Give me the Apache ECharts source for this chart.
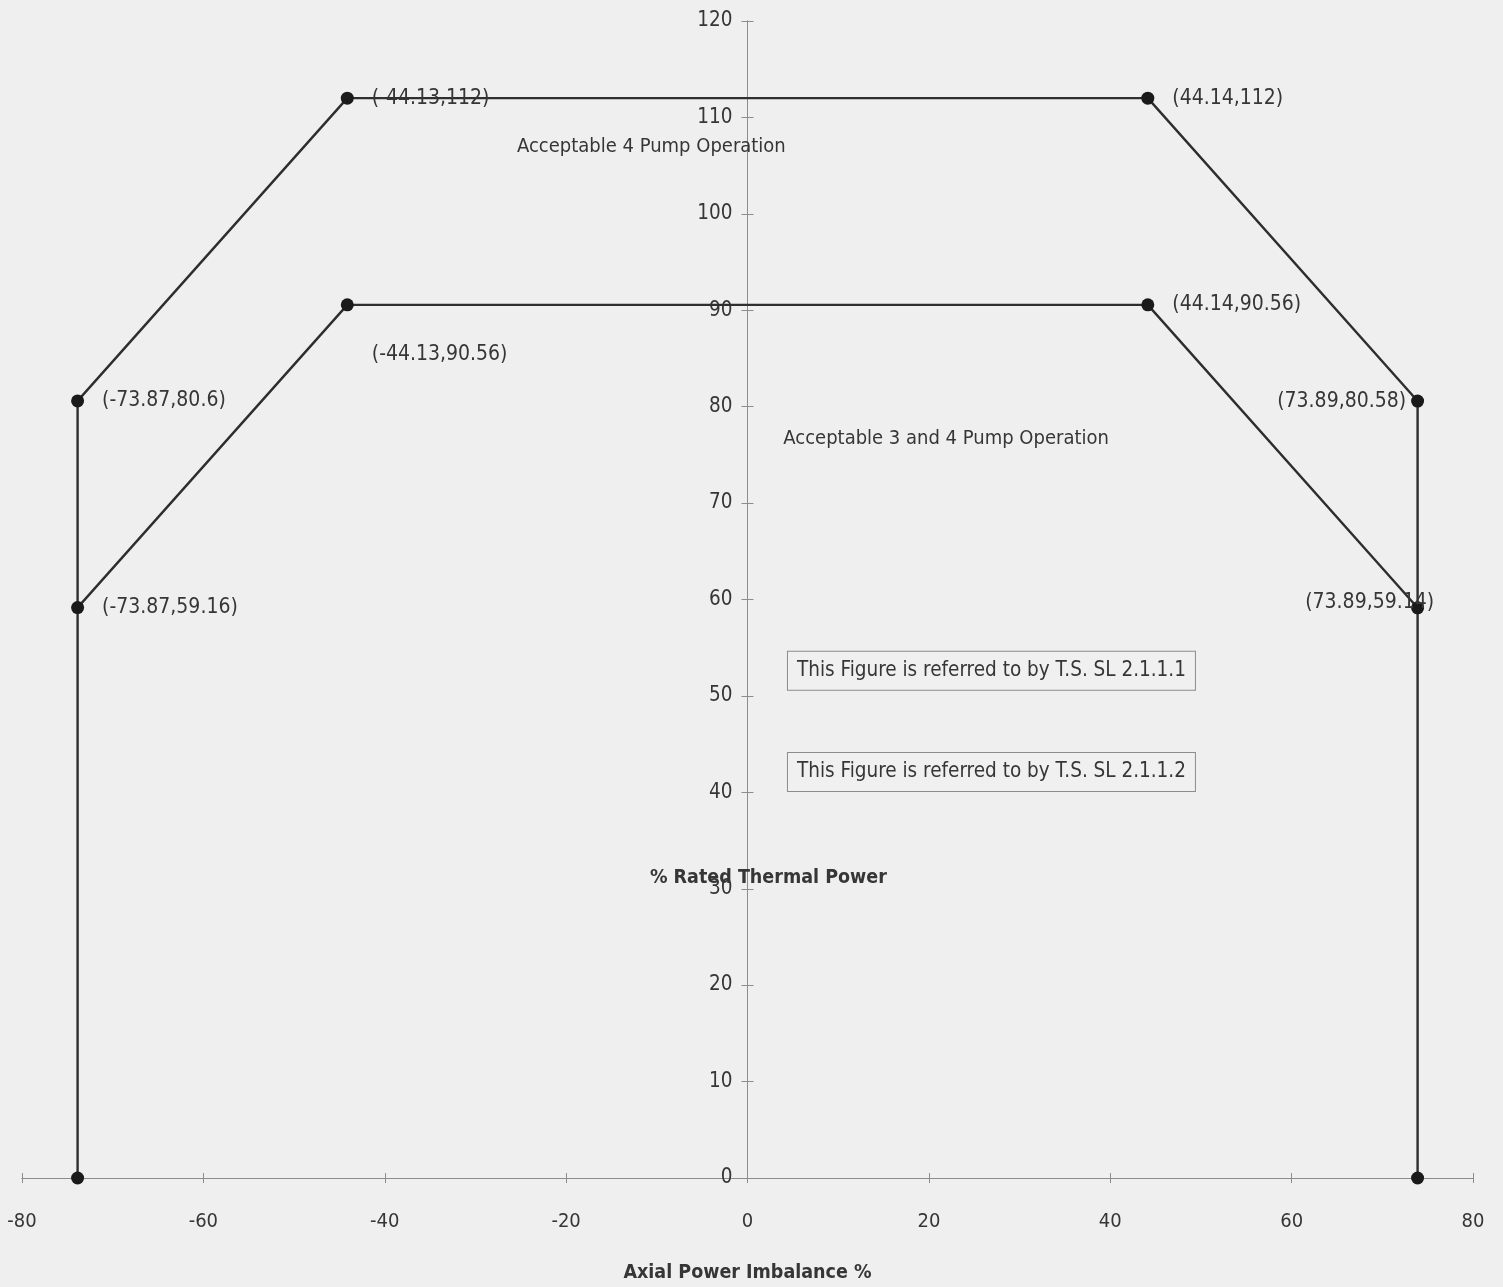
<!DOCTYPE html>
<html>
<head>
<meta charset="utf-8">
<script src="https://cdn.jsdelivr.net/npm/echarts@6/dist/echarts.min.js"></script>
<style>
html,body{margin:0;padding:0;background:#efefef;}
#chart{width:1503px;height:1287px;}
</style>
</head>
<body>
<div id="chart"></div>
<script>
// ---- data ----
const xTicks = [-80, -60, -40, -20, 0, 20, 40, 60, 80];
const yTicks = [0, 10, 20, 30, 40, 50, 60, 70, 80, 90, 100, 110, 120];
const outerX = [-73.87, -73.87, -44.13, 44.14, 73.89, 73.89];
const outerY = [0, 80.6, 112, 112, 80.58, 0];
const innerX = [-73.87, -44.13, 44.14, 73.89];
const innerY = [59.16, 90.56, 90.56, 59.14];
const noteTexts = ['Acceptable 4 Pump Operation', 'Acceptable 3 and 4 Pump Operation', '% Rated Thermal Power'];
const noteX = [-10.6, 21.9, 2.3];
const noteY = [107.0, 76.7, 31.1];
const boxTexts = ['This Figure is referred to by T.S. SL 2.1.1.1', 'This Figure is referred to by T.S. SL 2.1.1.2'];
const boxX = [26.9, 26.9];
const boxY = [52.6, 42.1];
const xName = 'Axial Power Imbalance %';

// ---- styles ----
const FONT = "'DejaVu Sans Condensed', 'Liberation Sans Narrow', sans-serif";
const TXT = '#363636';
const AX = '#8c8c8c';
const GRID = { left: 22, right: 30, top: 21, bottom: 109 };
const CHART_W = 1503;
const yAxisOffset = -(CHART_W - GRID.left - GRID.right) / 2; // place y axis at x = 0
const outerLabel = [null, {position:'right', distance:18}, {position:'right', distance:18}, {position:'right', distance:18}, {position:'left', distance:5}, null];
const innerLabel = [{position:'right', distance:18}, {position:'right', distance:18, offset:[0,50]}, {position:'right', distance:18}, {position:'left', distance:5, offset:[28,-5]}];

function buildPoints(xs, ys, labels) {
  return xs.map((x, i) => {
    const p = { value: [x, ys[i]] };
    const l = labels[i];
    p.label = l ? Object.assign({ show: true, formatter: '(' + x + ',' + ys[i] + ')' }, l) : { show: false };
    return p;
  });
}

const chart = echarts.init(document.getElementById('chart'), null, { renderer: 'canvas' });
const labelStyle = { fontFamily: FONT, fontSize: 21, color: TXT };

const option = {
  backgroundColor: '#efefef',
  animation: false,
  grid: Object.assign({ containLabel: false, outerBoundsMode: 'none' }, GRID),
  xAxis: [{
    type: 'value', min: -80, max: 80, interval: 20, position: 'bottom',
    name: xName, nameLocation: 'middle', nameGap: 85,
    nameTextStyle: { fontFamily: FONT, fontSize: 19.5, fontWeight: 'bold', color: TXT },
    axisLine: { onZero: false, lineStyle: { color: AX, width: 1 } },
    axisTick: { show: true, length: 5, lineStyle: { color: AX } },
    axisLabel: { margin: 34, fontFamily: FONT, fontSize: 20, color: TXT,
      customValues: xTicks, formatter: v => String(v) },
    splitLine: { show: false }
  }, {
    type: 'value', min: -80, max: 80, interval: 20, position: 'bottom',
    axisLine: { onZero: false, lineStyle: { color: AX, width: 1 } },
    axisTick: { show: true, inside: true, length: 5, lineStyle: { color: AX } },
    axisLabel: { show: false }, splitLine: { show: false }
  }],
  yAxis: [{
    type: 'value', min: 0, max: 120, interval: 10, position: 'left', offset: yAxisOffset,
    axisLine: { onZero: false, lineStyle: { color: AX, width: 1 } },
    axisTick: { show: true, length: 6, lineStyle: { color: AX } },
    axisLabel: { margin: 15, fontFamily: FONT, fontSize: 20.5, color: TXT,
      customValues: yTicks, formatter: v => String(v) },
    splitLine: { show: false }
  }, {
    type: 'value', min: 0, max: 120, interval: 10, position: 'left', offset: yAxisOffset,
    axisLine: { onZero: false, lineStyle: { color: AX, width: 1 } },
    axisTick: { show: true, inside: true, length: 6, lineStyle: { color: AX } },
    axisLabel: { show: false }, splitLine: { show: false }
  }],
  series: [{
    type: 'line', name: 'outer', xAxisIndex: 0, yAxisIndex: 0,
    data: buildPoints(outerX, outerY, outerLabel),
    symbol: 'circle', symbolSize: 13,
    lineStyle: { color: '#2e2e2e', width: 2.4 },
    itemStyle: { color: '#1a1a1a' },
    label: labelStyle, z: 3
  }, {
    type: 'line', name: 'inner', xAxisIndex: 0, yAxisIndex: 0,
    data: buildPoints(innerX, innerY, innerLabel),
    symbol: 'circle', symbolSize: 13,
    lineStyle: { color: '#2e2e2e', width: 2.4 },
    itemStyle: { color: '#1a1a1a' },
    label: labelStyle, z: 3
  }, {
    type: 'scatter', name: 'notes', symbolSize: 1, silent: true,
    itemStyle: { opacity: 1, color: 'rgba(0,0,0,0)' },
    data: noteTexts.map((t, i) => ({
      value: [noteX[i], noteY[i]],
      label: { show: true, position: 'inside', formatter: t,
        fontFamily: FONT, fontSize: i === 2 ? 19.5 : 20, color: TXT, fontWeight: i === 2 ? 'bold' : 'normal' }
    })),
    z: 4
  }, {
    type: 'scatter', name: 'boxes', symbolSize: 1, silent: true,
    itemStyle: { opacity: 1, color: 'rgba(0,0,0,0)' },
    data: boxTexts.map((t, i) => ({
      value: [boxX[i], boxY[i]],
      label: { show: true, position: 'inside', formatter: t,
        fontFamily: FONT, fontSize: 20.5, lineHeight: 22, color: TXT,
        borderColor: AX, borderWidth: 1, padding: [8, 9, 8, 9], backgroundColor: '#f0f0f0' }
    })),
    z: 4
  }]
};
chart.setOption(option);
</script>
</body>
</html>
